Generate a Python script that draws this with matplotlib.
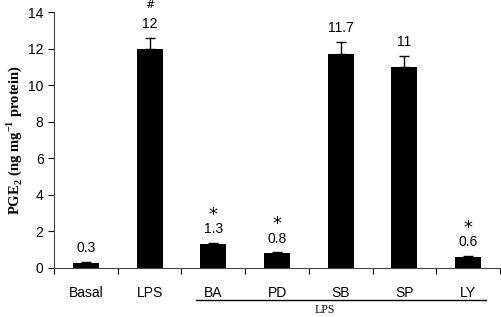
import matplotlib
matplotlib.use("Agg")
import matplotlib.pyplot as plt

categories = ["Basal", "LPS", "BA", "PD", "SB", "SP", "LY"]
values = [0.3, 12.0, 1.3, 0.8, 11.7, 11.0, 0.6]
errors = [0.02, 0.6, 0.07, 0.05, 0.65, 0.6, 0.05]
value_labels = ["0.3", "12", "1.3", "0.8", "11.7", "11", "0.6"]
marks = ["", "#", "*", "*", "", "", "*"]
y_ticks = [0, 2, 4, 6, 8, 10, 12, 14]

plt.rcParams["mathtext.fontset"] = "custom"
plt.rcParams["mathtext.rm"] = "Liberation Serif"
plt.rcParams["mathtext.bf"] = "Liberation Serif:bold"

fig = plt.figure(figsize=(5.02, 3.17), dpi=100)
ax = fig.add_axes([0.1076, 0.1546, 0.8884, 0.8074])

x = list(range(len(categories)))
ax.bar(x, values, width=0.41, color="black", zorder=2)
ax.errorbar(x, values, yerr=[[0] * len(errors), errors], fmt="none",
            ecolor="black", elinewidth=1, capsize=3.5, capthick=1, zorder=3)

sans = "Liberation Sans"
for xi, v, e, lab, mk in zip(x, values, errors, value_labels, marks):
    top = v + e
    ax.annotate(lab, (xi, top), xytext=(0, 5), textcoords="offset points",
                ha="center", va="bottom", fontsize=10, family=sans)
    if mk == "*":
        ax.annotate(mk, (xi, top), xytext=(0, 14), textcoords="offset points",
                    ha="center", va="bottom", fontsize=13, family="DejaVu Sans")
    elif mk == "#":
        ax.annotate(mk, (xi, top), xytext=(0, 20), textcoords="offset points",
                    ha="center", va="bottom", fontsize=8, family="DejaVu Sans",
                    fontstyle="italic")

ax.set_xlim(-0.5, len(categories) - 0.5)
ax.set_ylim(0, 14)
ax.set_yticks(y_ticks)
ax.set_yticklabels([str(t) for t in y_ticks], family=sans, fontsize=10)
ax.tick_params(axis="y", direction="out", length=4, width=0.8)

ax.set_xticks([i + 0.5 for i in range(-1, len(categories))])
ax.set_xticklabels([])
ax.tick_params(axis="x", direction="out", length=4, width=0.8)
for xi, c in zip(x, categories):
    ax.text(xi, -0.098, c, transform=ax.get_xaxis_transform(), ha="center", va="center",
            fontsize=10, family=sans)

ax.spines[["top", "right"]].set_visible(False)
ax.spines["left"].set_color("#444444")
ax.spines["bottom"].set_color("#444444")

ax.set_ylabel(r"PGE$_\mathbf{2}$ (ng mg$^\mathbf{-1}$ protein)", family="Liberation Serif",
              fontweight="bold", fontsize=10.5, labelpad=3)

# group bracket for LPS-treated samples
ax.plot([1.73, 6.28], [-0.125, -0.125], transform=ax.get_xaxis_transform(),
        color="black", lw=1, clip_on=False)
ax.text(3.75, -0.166, "LPS", transform=ax.get_xaxis_transform(), ha="center", va="center",
        fontsize=8.5, family="Liberation Serif")

fig.savefig("out.png", dpi=100)
